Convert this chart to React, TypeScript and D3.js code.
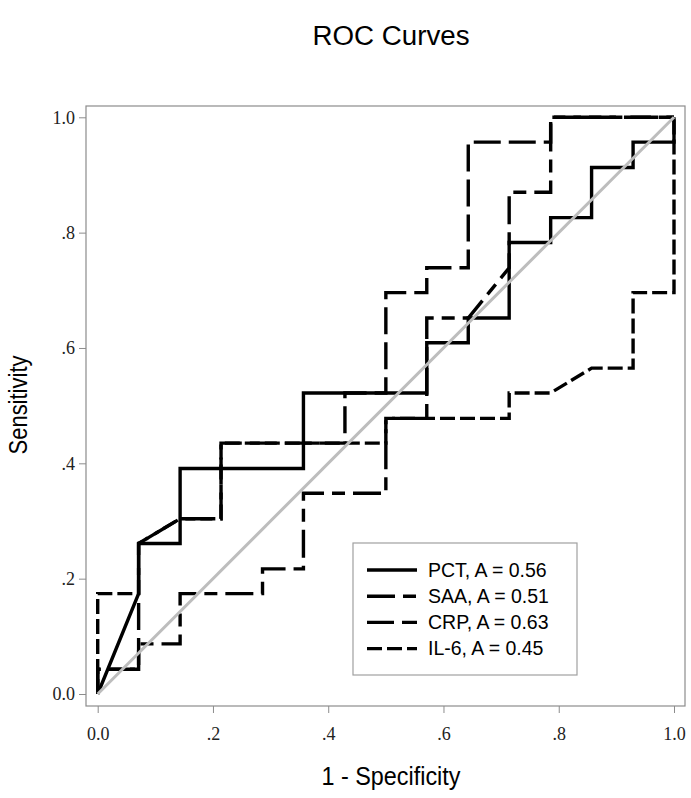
import React, { useEffect, useRef } from "react";
import { axisBottom, axisLeft, line, scaleLinear, select } from "d3";

// ROC coordinates (1 - specificity, sensitivity)
const pctFpr = [0, 0.071, 0.071, 0.143, 0.143, 0.357, 0.357, 0.571, 0.571, 0.643, 0.643, 0.714, 0.714, 0.786, 0.786, 0.857, 0.857, 0.929, 0.929, 1, 1];
const pctTpr = [0, 0.174, 0.261, 0.261, 0.391, 0.391, 0.522, 0.522, 0.609, 0.609, 0.652, 0.652, 0.783, 0.783, 0.826, 0.826, 0.913, 0.913, 0.957, 0.957, 1];

const saaFpr = [0, 0, 0.071, 0.071, 0.143, 0.143, 0.286, 0.286, 0.357, 0.357, 0.5, 0.5, 0.571, 0.571, 0.643, 0.714, 0.714, 0.786, 0.786, 1];
const saaTpr = [0, 0.043, 0.043, 0.087, 0.087, 0.174, 0.174, 0.217, 0.217, 0.348, 0.348, 0.478, 0.478, 0.652, 0.652, 0.739, 0.87, 0.87, 1, 1];

const crpFpr = [0, 0, 0.071, 0.071, 0.143, 0.214, 0.214, 0.429, 0.429, 0.5, 0.5, 0.571, 0.571, 0.643, 0.643, 0.786, 0.786, 1];
const crpTpr = [0, 0.043, 0.043, 0.261, 0.304, 0.304, 0.435, 0.435, 0.522, 0.522, 0.696, 0.696, 0.739, 0.739, 0.957, 0.957, 1, 1];

const il6Fpr = [0, 0, 0.071, 0.071, 0.143, 0.214, 0.214, 0.5, 0.5, 0.714, 0.714, 0.786, 0.857, 0.929, 0.929, 1, 1];
const il6Tpr = [0, 0.174, 0.174, 0.261, 0.304, 0.304, 0.435, 0.435, 0.478, 0.478, 0.522, 0.522, 0.565, 0.565, 0.696, 0.696, 1];

const refLine = [0, 1];

const seriesNames = ["PCT", "SAA", "CRP", "IL-6"];
const seriesAuc = ["0.56", "0.51", "0.63", "0.45"];
const tickValues = [0, 0.2, 0.4, 0.6, 0.8, 1];
const tickLabels = ["0.0", ".2", ".4", ".6", ".8", "1.0"];

const dashes = [null, "28 8 13 8", "27 8", "15 5"];

const box = { left: 86, right: 685, top: 106, bottom: 706 };

function AxisBottom({ scale, transform }) {
  const ref = useRef(null);
  useEffect(() => {
    const g = select(ref.current);
    g.call(
      axisBottom(scale)
        .tickValues(tickValues)
        .tickSize(7)
        .tickPadding(14)
        .tickFormat((d, i) => tickLabels[i])
    );
    g.select(".domain").remove();
    g.selectAll("line").attr("stroke", "#8c8c8c");
    g.selectAll("text")
      .style("font-family", "'Liberation Serif', 'Times New Roman', serif")
      .style("font-size", "18px")
      .attr("fill", "#222");
  }, [scale]);
  return <g ref={ref} transform={transform} />;
}

function AxisLeft({ scale, transform }) {
  const ref = useRef(null);
  useEffect(() => {
    const g = select(ref.current);
    g.call(
      axisLeft(scale)
        .tickValues(tickValues)
        .tickSize(7)
        .tickPadding(4)
        .tickFormat((d, i) => tickLabels[i])
    );
    g.select(".domain").remove();
    g.selectAll("line").attr("stroke", "#8c8c8c");
    g.selectAll("text")
      .style("font-family", "'Liberation Serif', 'Times New Roman', serif")
      .style("font-size", "18px")
      .attr("fill", "#222");
  }, [scale]);
  return <g ref={ref} transform={transform} />;
}

export default function App() {
  useEffect(() => {
    document.body.style.margin = "0";
  }, []);

  const x = scaleLinear().domain([0, 1]).range([97.7, 674]);
  const y = scaleLinear().domain([0, 1]).range([694, 117.3]);

  const path = line()
    .x((d) => x(d[0]))
    .y((d) => y(d[1]));

  const series = [
    pctFpr.map((v, i) => [v, pctTpr[i]]),
    saaFpr.map((v, i) => [v, saaTpr[i]]),
    crpFpr.map((v, i) => [v, crpTpr[i]]),
    il6Fpr.map((v, i) => [v, il6Tpr[i]]),
  ];

  const legendX = 353;
  const legendY = 543;
  const rowY = (i) => legendY + 27 + i * 26.2;

  const sans = "'Liberation Sans', Arial, sans-serif";

  return (
    <svg width={691} height={798} style={{ display: "block", background: "#fff" }}>
      <text x={391} y={45} textAnchor="middle" fontFamily={sans} fontSize={27} textLength={157} lengthAdjust="spacingAndGlyphs">
        ROC Curves
      </text>

      <rect
        x={box.left}
        y={box.top}
        width={box.right - box.left}
        height={box.bottom - box.top}
        fill="none"
        stroke="#8c8c8c"
        strokeWidth={1.2}
      />

      <AxisBottom scale={x} transform={`translate(0, ${box.bottom})`} />
      <AxisLeft scale={y} transform={`translate(${box.left}, 0)`} />

      {series.map((pts, i) => (
        <path
          key={seriesNames[i]}
          d={path(pts)}
          fill="none"
          stroke="#000"
          strokeWidth={3.4}
          strokeDasharray={dashes[i] || undefined}
          strokeLinejoin="miter"
        />
      ))}

      <path
        d={path(refLine.map((v) => [v, v]))}
        fill="none"
        stroke="#bdbdbd"
        strokeWidth={3}
      />

      <rect x={legendX} y={legendY} width={224} height={132} fill="#fff" stroke="#a0a0a0" strokeWidth={1.2} />
      {seriesNames.map((name, i) => (
        <g key={name}>
          <line
            x1={legendX + 14}
            x2={legendX + 64}
            y1={rowY(i)}
            y2={rowY(i)}
            stroke="#000"
            strokeWidth={3.4}
            strokeDasharray={dashes[i] || undefined}
          />
          <text x={legendX + 75} y={rowY(i)} dy="0.35em" fontFamily={sans} fontSize={19.5} fill="#000">
            {`${name}, A = ${seriesAuc[i]}`}
          </text>
        </g>
      ))}

      <text x={391} y={785} textAnchor="middle" fontFamily={sans} fontSize={25} textLength={139} lengthAdjust="spacingAndGlyphs">
        1 - Specificity
      </text>
      <text
        transform="translate(27, 405) rotate(-90)"
        textAnchor="middle"
        fontFamily={sans}
        fontSize={25}
        textLength={99}
        lengthAdjust="spacingAndGlyphs"
      >
        Sensitivity
      </text>
    </svg>
  );
}
